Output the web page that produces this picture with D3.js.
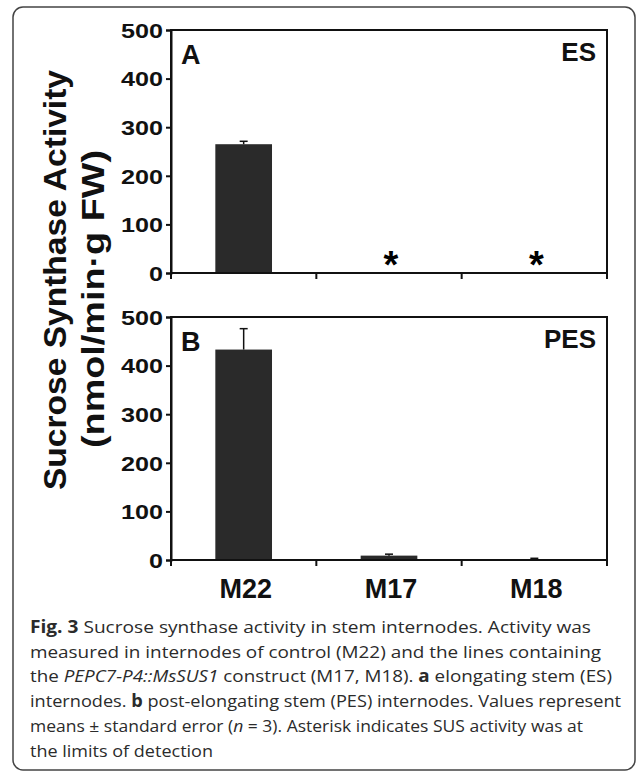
<!DOCTYPE html>
<html>
<head>
<meta charset="utf-8">
<script src="https://cdn.jsdelivr.net/npm/d3@7"></script>
<style>
  body { margin: 0; background: #fff; }
</style>
</head>
<body>
<script>
// data
var categories = ["M22", "M17", "M18"];
var esValues = [265, 0, 0];
var esErrors = [6, 0, 0];
var esAtLimit = [false, true, true];
var pesValues = [433, 9, 2];
var pesErrors = [43, 3, 1.5];
var pesAtLimit = [false, false, false];
var yTicks = [0, 100, 200, 300, 400, 500];
var panelLetters = ["A", "B"];
var panelStages = ["ES", "PES"];
var yTitleLines = ["Sucrose Synthase Activity", "(nmol/min\u00b7g FW)"];

var captionLines = [
    [["Fig. 3", "b"], [" Sucrose synthase activity in stem internodes. Activity was", ""]],
    [["measured in internodes of control (M22) and the lines containing", ""]],
    [["the ", ""], ["PEPC7-P4::MsSUS1", "i"], [" construct (M17, M18). ", ""], ["a", "b"], [" elongating stem (ES)", ""]],
    [["internodes. ", ""], ["b", "b"], [" post-elongating stem (PES) internodes. Values represent", ""]],
    [["means \u00b1 standard error (", ""], ["n", "i"], [" = 3). Asterisk indicates SUS activity was at", ""]],
    [["the limits of detection", ""]]
];
var captionWidths = [561, 571, 582, 591, 553, 183];

var width = 637,
    height = 773,
    plotLeft = 171,
    plotRight = 607,
    panelTops = [30, 317],
    panelHeight = 243,
    barColor = "#2a2a2a",
    font = "Arial, 'Liberation Sans', sans-serif";

var svg = d3.select("body").append("svg")
    .attr("width", width)
    .attr("height", height);

// rounded frame round the whole figure
svg.append("rect")
    .attr("x", 13)
    .attr("y", 7)
    .attr("width", 622)
    .attr("height", 763)
    .attr("rx", 10)
    .attr("fill", "none")
    .attr("stroke", "#444")
    .attr("stroke-width", 1.5);

var x = d3.scaleBand()
    .domain(categories)
    .range([plotLeft, plotRight])
    .paddingInner(0.61)
    .paddingOuter(0.305);

var bounds = [plotLeft].concat(categories.map(c => x(c) + x.bandwidth() / 2 + x.step() / 2));

function drawPanel(i, values, errors, atLimit) {
    var top = panelTops[i],
        y = d3.scaleLinear().domain([0, 500]).range([top + panelHeight, top]),
        g = svg.append("g");

    var rows = categories.map((c, k) => ({ cat: c, v: values[k], e: errors[k], limit: atLimit[k] }));

    // bars
    g.selectAll(".bar")
        .data(rows)
        .enter()
        .append("rect")
        .attr("class", "bar")
        .attr("x", d => x(d.cat))
        .attr("y", d => y(d.v))
        .attr("width", x.bandwidth())
        .attr("height", d => y(0) - y(d.v))
        .attr("fill", barColor);

    // error bars, upper side only
    var err = g.selectAll(".err")
        .data(rows.filter(d => d.e > 0))
        .enter()
        .append("g")
        .attr("class", "err");

    err.append("line")
        .attr("x1", d => x(d.cat) + x.bandwidth() / 2)
        .attr("x2", d => x(d.cat) + x.bandwidth() / 2)
        .attr("y1", d => y(d.v))
        .attr("y2", d => y(d.v + d.e))
        .attr("stroke", "#111")
        .attr("stroke-width", 1.5);

    err.append("line")
        .attr("x1", d => x(d.cat) + x.bandwidth() / 2 - 4)
        .attr("x2", d => x(d.cat) + x.bandwidth() / 2 + 4)
        .attr("y1", d => y(d.v + d.e))
        .attr("y2", d => y(d.v + d.e))
        .attr("stroke", "#111")
        .attr("stroke-width", 1.5);

    // asterisks where activity was at detection limit
    g.selectAll(".star")
        .data(rows.filter(d => d.limit))
        .enter()
        .append("text")
        .attr("class", "star")
        .attr("x", d => x(d.cat) + x.bandwidth() / 2 + 2)
        .attr("y", y(0) + 5)
        .attr("text-anchor", "middle")
        .attr("font-family", font)
        .attr("font-weight", "bold")
        .attr("font-size", "38px")
        .text("*");

    // box round the plot area
    g.append("rect")
        .attr("x", plotLeft)
        .attr("y", top)
        .attr("width", plotRight - plotLeft)
        .attr("height", panelHeight)
        .attr("fill", "none")
        .attr("stroke", "#111")
        .attr("stroke-width", 2);

    var yAxis = g.append("g")
        .attr("transform", "translate(" + plotLeft + ",0)")
        .call(d3.axisLeft(y).tickValues(yTicks).tickSize(5).tickPadding(3));

    yAxis.select(".domain").attr("stroke", "#111").attr("stroke-width", 2);
    yAxis.selectAll(".tick line").attr("stroke", "#111").attr("stroke-width", 2);
    yAxis.selectAll(".tick text")
        .attr("font-family", font)
        .attr("font-weight", "bold")
        .attr("font-size", "20px")
        .attr("fill", "#111")
        .attr("dy", "0.36em")
        .attr("textLength", d => String(d).length * 14)
        .attr("lengthAdjust", "spacingAndGlyphs");

    // category boundary ticks below the baseline
    g.selectAll(".xtick")
        .data(bounds)
        .enter()
        .append("line")
        .attr("x1", d => d)
        .attr("x2", d => d)
        .attr("y1", y(0))
        .attr("y2", y(0) + 6)
        .attr("stroke", "#111")
        .attr("stroke-width", 2);

    g.append("text")
        .attr("x", plotLeft + 10)
        .attr("y", top + 34)
        .attr("font-family", font)
        .attr("font-weight", "bold")
        .attr("font-size", "27px")
        .attr("fill", "#111")
        .text(panelLetters[i]);

    g.append("text")
        .attr("x", plotRight - 11)
        .attr("y", top + 31)
        .attr("text-anchor", "end")
        .attr("font-family", font)
        .attr("font-weight", "bold")
        .attr("font-size", "26px")
        .attr("fill", "#111")
        .text(panelStages[i]);

    return y;
}

drawPanel(0, esValues, esErrors, esAtLimit);
var yBottom = drawPanel(1, pesValues, pesErrors, pesAtLimit);

// category labels under the lower panel
svg.append("g")
    .selectAll("text")
    .data(categories)
    .enter()
    .append("text")
    .attr("x", d => x(d) + x.bandwidth() / 2 + 2)
    .attr("y", yBottom(0) + 38)
    .attr("text-anchor", "middle")
    .attr("font-family", font)
    .attr("font-weight", "bold")
    .attr("font-size", "27px")
    .attr("fill", "#111")
    .text(d => d);

// shared y title, two rotated lines
var titleCenter = 280;
svg.append("text")
    .attr("transform", "translate(66," + titleCenter + ") rotate(-90)")
    .attr("text-anchor", "middle")
    .attr("font-family", font)
    .attr("font-weight", "bold")
    .attr("font-size", "32px")
    .attr("fill", "#111")
    .attr("textLength", 420)
    .attr("lengthAdjust", "spacingAndGlyphs")
    .text(yTitleLines[0]);

svg.append("text")
    .attr("transform", "translate(104," + (titleCenter + 19) + ") rotate(-90)")
    .attr("text-anchor", "middle")
    .attr("font-family", font)
    .attr("font-weight", "bold")
    .attr("font-size", "32px")
    .attr("fill", "#111")
    .attr("textLength", 298)
    .attr("lengthAdjust", "spacingAndGlyphs")
    .text(yTitleLines[1]);

// caption
var caption = svg.append("g")
    .attr("font-family", "'Open Sans', 'Noto Sans', sans-serif")
    .attr("font-size", "17px")
    .attr("fill", "#2b2b2b");

captionLines.forEach(function (line, i) {
    var t = caption.append("text")
        .attr("x", 30)
        .attr("y", 633 + i * 24.7)
        .attr("textLength", captionWidths[i])
        .attr("lengthAdjust", "spacingAndGlyphs");
    line.forEach(function (seg) {
        t.append("tspan")
            .attr("font-weight", seg[1] === "b" ? "bold" : "normal")
            .attr("font-style", seg[1] === "i" ? "italic" : "normal")
            .text(seg[0]);
    });
});
</script>
</body>
</html>
